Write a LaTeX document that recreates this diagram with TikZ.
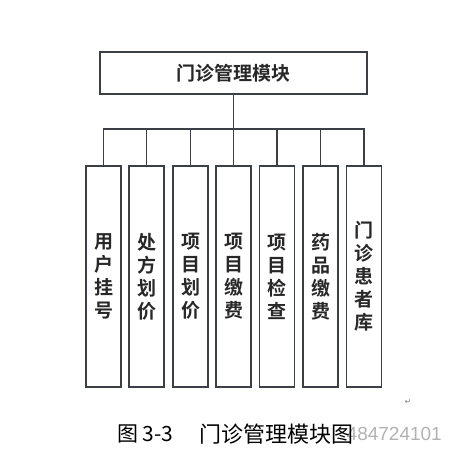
\documentclass[tikz,border=0pt]{standalone}
\usepackage{fontspec}
\setmainfont{Liberation Sans}
\newfontfamily\cjk{Noto Sans CJK SC}
\newfontfamily\cjkbold{Noto Sans CJK SC Bold}
\newfontfamily\symfont{DejaVu Sans}
\definecolor{lineg}{RGB}{60,64,70}
\definecolor{textg}{RGB}{40,40,40}
\tikzset{
  modbox/.style={draw=lineg, line width=1.8pt, rectangle, minimum width=267pt, minimum height=42pt, inner sep=0pt, text=textg, font=\cjkbold\fontsize{19pt}{19pt}\selectfont},
  subbox/.style={draw=lineg, line width=1.8pt, rectangle, minimum width=35pt, minimum height=221pt, inner sep=0pt, align=center, text=textg, font=\cjkbold\fontsize{19pt}{23pt}\selectfont},
  link/.style={draw=lineg, line width=1.8pt}
}
\begin{document}
\begin{tikzpicture}[x=1pt, y=-1pt]
\useasboundingbox (0,0) rectangle (457,456);
\node[modbox] (mod) at (233.5,73){门诊管理模块};
\coordinate (bus) at (233.5,129);
\node[subbox] (sub1) at (103.5,276.5){用\\户\\挂\\号};
\node[subbox] (sub2) at (146.5,276.5){处\\方\\划\\价};
\node[subbox] (sub3) at (190.5,276.5){项\\目\\划\\价};
\node[subbox] (sub4) at (233.5,276.5){项\\目\\缴\\费};
\node[subbox] (sub5) at (277,276.5){项\\目\\检\\查};
\node[subbox] (sub6) at (320.5,276.5){药\\品\\缴\\费};
\node[subbox] (sub7) at (364,276.5){门\\诊\\患\\者\\库};
\draw[link](mod.south) -- (bus);
\draw[link](bus) -| (sub1.north);
\draw[link](bus) -| (sub2.north);
\draw[link](bus) -| (sub3.north);
\draw[link](bus) -- (sub4.north);
\draw[link](bus) -| (sub5.north);
\draw[link](bus) -| (sub6.north);
\draw[link](bus) -| (sub7.north);
% caption
\node[text=gray!60, font=\fontsize{19pt}{19pt}\selectfont, anchor=east, inner sep=0pt] (mark) at (442,434){484724101};
\node[text=gray, font=\symfont\fontsize{8pt}{8pt}\selectfont, inner sep=0pt] (ret) at (408,402){↵};
\node[font=\cjk\fontsize{21pt}{21pt}\selectfont, anchor=west, inner sep=0pt] (cap1) at (117,434){图 3-3};
\node[font=\cjk\fontsize{22pt}{22pt}\selectfont, anchor=west, inner sep=0pt] (cap2) at (199,434){门诊管理模块图};
\end{tikzpicture}
\end{document}
